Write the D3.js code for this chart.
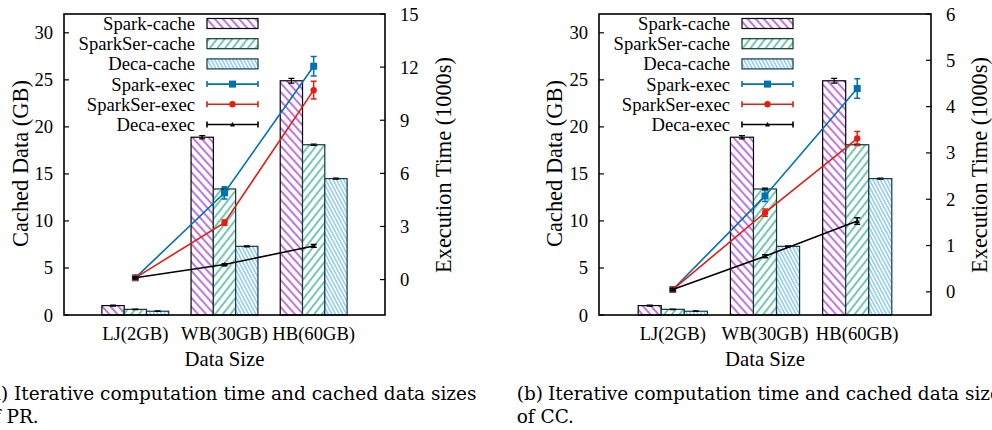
<!DOCTYPE html>
<html><head><meta charset="utf-8">
<script src="https://cdn.jsdelivr.net/npm/d3@7"></script>
<style>
html,body{margin:0;padding:0;background:#fff;overflow:hidden}
svg{display:block}
text{font-family:"Liberation Serif","Times New Roman",serif;fill:#000}
.cap{font-family:"DejaVu Serif",serif}
</style></head>
<body><svg id="c" width="992" height="430"></svg>
<script>
// ---- data ----
const categories = ["LJ(2GB)", "WB(30GB)", "HB(60GB)"];
const cacheSeries = ["Spark-cache", "SparkSer-cache", "Deca-cache"];
const execSeries = ["Spark-exec", "SparkSer-exec", "Deca-exec"];
const sparkCache    = [1.0, 18.9, 24.9];
const sparkSerCache = [0.6, 13.4, 18.1];
const decaCache     = [0.4, 7.3, 14.5];
const sparkCacheErr    = [0.05, 0.18, 0.25];
const sparkSerCacheErr = [0.03, 0.08, 0.08];
const decaCacheErr     = [0.03, 0.06, 0.06];
// PR (1000s)
const sparkExecPR       = [0.10, 4.90, 12.05];
const sparkExecPRErr    = [0.05, 0.35, 0.55];
const sparkSerExecPR    = [0.10, 3.22, 10.70];
const sparkSerExecPRErr = [0.05, 0.15, 0.50];
const decaExecPR        = [0.10, 0.85, 1.90];
const decaExecPRErr     = [0.04, 0.05, 0.08];
// CC (1000s)
const sparkExecCC       = [0.05, 2.07, 4.39];
const sparkExecCCErr    = [0.02, 0.12, 0.21];
const sparkSerExecCC    = [0.05, 1.71, 3.31];
const sparkSerExecCCErr = [0.02, 0.08, 0.15];
const decaExecCC        = [0.05, 0.77, 1.53];
const decaExecCCErr     = [0.02, 0.03, 0.07];
const leftTicks = [0, 5, 10, 15, 20, 25, 30];
const rightTicksPR = [0, 3, 6, 9, 12, 15];
const rightTicksCC = [0, 1, 2, 3, 4, 5, 6];
const captionA = ["(a)", "Iterative computation time and cached data sizes", "of PR."];
const captionB = ["(b)", "Iterative computation time and cached data sizes", "of CC."];

// ---- styles ----
const cacheColors = ["#9400d3", "#009e73", "#56b4e9"];
const cacheBorders = ["#000000", "#0d3b2c", "#123a52"];
const execColors = ["#0072b2", "#e51e10", "#000000"];

const svg = d3.select("#c");
const defs = svg.append("defs");

// font sizing from measured text widths
function measure(str, cls) {
  const t = svg.append("text").attr("font-size", 100).text(str);
  if (cls) t.attr("class", cls);
  const w = t.node().getComputedTextLength();
  t.remove();
  return w;
}
const FS = 100 * 92 / measure("Spark-cache");
const FS_YL = 100 * 167 / measure("Cached Data (GB)");
const FS_YR = 100 * 216 / measure("Execution Time (1000s)");
const FS_X = 100 * 80 / measure("Data Size");
const CFS = 100 * 463 / measure("Iterative computation time and cached data sizes", "cap");
const capGap = (measure("(a) I", "cap") - measure("I", "cap")) * CFS / 100;

function hatch(id, color, spacing, angle, sw) {
  const p = defs.append("pattern").attr("id", id).attr("patternUnits", "userSpaceOnUse")
    .attr("width", spacing).attr("height", spacing)
    .attr("patternTransform", `rotate(${angle})`);
  p.append("rect").attr("width", spacing).attr("height", spacing).attr("fill", "#fff");
  p.append("line").attr("x1", spacing / 2).attr("x2", spacing / 2).attr("y1", -1).attr("y2", spacing + 1)
    .attr("stroke", color).attr("stroke-width", sw);
}
hatch("h0", cacheColors[0], 6, -42, 1.1);
hatch("h1", cacheColors[1], 6, 38, 1.1);
hatch("h2", cacheColors[2], 3.2, -28, 1.0);

function panel(cfg) {
  const g = svg.append("g");
  const x = d3.scaleLinear().domain([-0.8, 2.8]).range([cfg.left, cfg.right]);
  const yL = d3.scaleLinear().domain([0, 32]).range([cfg.bottom, cfg.top]);
  const yR = d3.scaleLinear().domain(cfg.rDomain).range([cfg.bottom, cfg.top]);
  const bw = 0.25;
  const caches = [sparkCache, sparkSerCache, decaCache];
  const cacheErrs = [sparkCacheErr, sparkSerCacheErr, decaCacheErr];

  caches.forEach((vals, s) => {
    const off = (s - 1) * bw;
    g.selectAll(null).data(vals).enter().append("rect")
      .attr("x", (d, i) => x(i + off - bw / 2))
      .attr("width", (d, i) => x(i + off + bw / 2) - x(i + off - bw / 2))
      .attr("y", d => yL(d))
      .attr("height", d => yL(0) - yL(d))
      .attr("fill", `url(#h${s})`)
      .attr("stroke", cacheBorders[s]).attr("stroke-width", 1.2);
    vals.forEach((d, i) => {
      const cx = x(i + off), e = cacheErrs[s][i];
      g.append("path").attr("d",
        `M${cx},${yL(d - e)}V${yL(d + e)}M${cx - 3},${yL(d - e)}h6M${cx - 3},${yL(d + e)}h6`)
        .attr("stroke", "#000").attr("stroke-width", 1.2).attr("fill", "none");
    });
  });

  cfg.exec.forEach((vals, s) => {
    const col = execColors[s];
    const line = d3.line().x((d, i) => x(i)).y(d => yR(d));
    g.append("path").datum(vals).attr("d", line).attr("fill", "none")
      .attr("stroke", col).attr("stroke-width", 1.6);
    vals.forEach((d, i) => {
      const cx = x(i), e = cfg.execErr[s][i];
      g.append("path").attr("d",
        `M${cx},${yR(d - e)}V${yR(d + e)}M${cx - 3},${yR(d - e)}h6M${cx - 3},${yR(d + e)}h6`)
        .attr("stroke", col).attr("stroke-width", 1.5).attr("fill", "none");
      marker(g, s, cx, yR(d), col);
    });
  });

  g.append("rect").attr("x", cfg.left).attr("y", cfg.top)
    .attr("width", cfg.right - cfg.left).attr("height", cfg.bottom - cfg.top)
    .attr("fill", "none").attr("stroke", "#000").attr("stroke-width", 1.6);

  leftTicks.forEach(t => {
    g.append("line").attr("x1", cfg.left).attr("x2", cfg.left + 5)
      .attr("y1", yL(t)).attr("y2", yL(t)).attr("stroke", "#000").attr("stroke-width", 1.2);
    g.append("text").attr("x", cfg.left - 11).attr("y", yL(t)).attr("dy", "0.35em")
      .attr("text-anchor", "end").attr("font-size", FS).text(t);
  });
  cfg.rTicks.forEach(t => {
    g.append("line").attr("x1", cfg.right).attr("x2", cfg.right - 5)
      .attr("y1", yR(t)).attr("y2", yR(t)).attr("stroke", "#000").attr("stroke-width", 1.2);
    g.append("text").attr("x", cfg.right + 15).attr("y", yR(t)).attr("dy", "0.35em")
      .attr("text-anchor", "start").attr("font-size", FS).text(t);
  });
  categories.forEach((c, i) => {
    g.append("text").attr("x", x(i)).attr("y", 340).attr("text-anchor", "middle")
      .attr("font-size", FS).text(c);
  });
  g.append("text").attr("x", x(1)).attr("y", 366).attr("text-anchor", "middle")
    .attr("font-size", FS_X).text("Data Size");
  g.append("text").attr("transform", `translate(${cfg.yLabelL},163.5) rotate(-90)`)
    .attr("text-anchor", "middle").attr("dy", "0.35em").attr("font-size", FS_YL).text("Cached Data (GB)");
  g.append("text").attr("transform", `translate(${cfg.yLabelR},165) rotate(-90)`)
    .attr("text-anchor", "middle").attr("dy", "0.35em").attr("font-size", FS_YR).text("Execution Time (1000s)");

  const names = cacheSeries.concat(execSeries);
  names.forEach((n, k) => {
    const ly = 23.5 + k * 20.2;
    g.append("text").attr("x", cfg.legText).attr("y", ly).attr("dy", "0.35em")
      .attr("text-anchor", "end").attr("font-size", FS).text(n);
    const x0 = cfg.legText + 12, x1 = x0 + 51;
    if (k < 3) {
      g.append("rect").attr("x", x0).attr("y", ly - 5).attr("width", x1 - x0).attr("height", 10)
        .attr("fill", `url(#h${k})`).attr("stroke", cacheBorders[k]).attr("stroke-width", 1.2);
    } else {
      const s = k - 3, col = execColors[s];
      g.append("path").attr("d", `M${x0},${ly}H${x1}M${x0},${ly - 3}v6M${x1},${ly - 3}v6`)
        .attr("stroke", col).attr("stroke-width", 1.6).attr("fill", "none");
      marker(g, s, (x0 + x1) / 2, ly, col);
    }
  });

  const cx0 = cfg.capTextX - capGap;
  g.append("text").attr("class", "cap").attr("x", cx0).attr("y", 400).attr("font-size", CFS).text(cfg.caption[0]);
  g.append("text").attr("class", "cap").attr("x", cfg.capTextX).attr("y", 400).attr("font-size", CFS).text(cfg.caption[1]);
  g.append("text").attr("class", "cap").attr("x", cx0).attr("y", 423).attr("font-size", CFS).text(cfg.caption[2]);
}

function marker(g, s, cx, cy, col) {
  if (s === 0) {
    g.append("rect").attr("x", cx - 3.5).attr("y", cy - 3.5).attr("width", 7).attr("height", 7).attr("fill", col);
  } else if (s === 1) {
    g.append("circle").attr("cx", cx).attr("cy", cy).attr("r", 3.2).attr("fill", col);
  } else {
    g.append("path").attr("d", `M${cx - 2.5},${cy + 2}L${cx + 2.5},${cy + 2}L${cx},${cy - 2.5}Z`).attr("fill", col);
  }
}

panel({
  left: 64, right: 385, top: 14, bottom: 315,
  rDomain: [-2, 15], rTicks: rightTicksPR,
  exec: [sparkExecPR, sparkSerExecPR, decaExecPR],
  execErr: [sparkExecPRErr, sparkSerExecPRErr, decaExecPRErr],
  legText: 195, yLabelL: 20, yLabelR: 443, caption: captionA, capTextX: 14
});
panel({
  left: 599, right: 931, top: 14, bottom: 315,
  rDomain: [-0.5, 6], rTicks: rightTicksCC,
  exec: [sparkExecCC, sparkSerExecCC, decaExecCC],
  execErr: [sparkExecCCErr, sparkSerExecCCErr, decaExecCCErr],
  legText: 730, yLabelL: 554, yLabelR: 979, caption: captionB, capTextX: 548
});
</script></body></html>
